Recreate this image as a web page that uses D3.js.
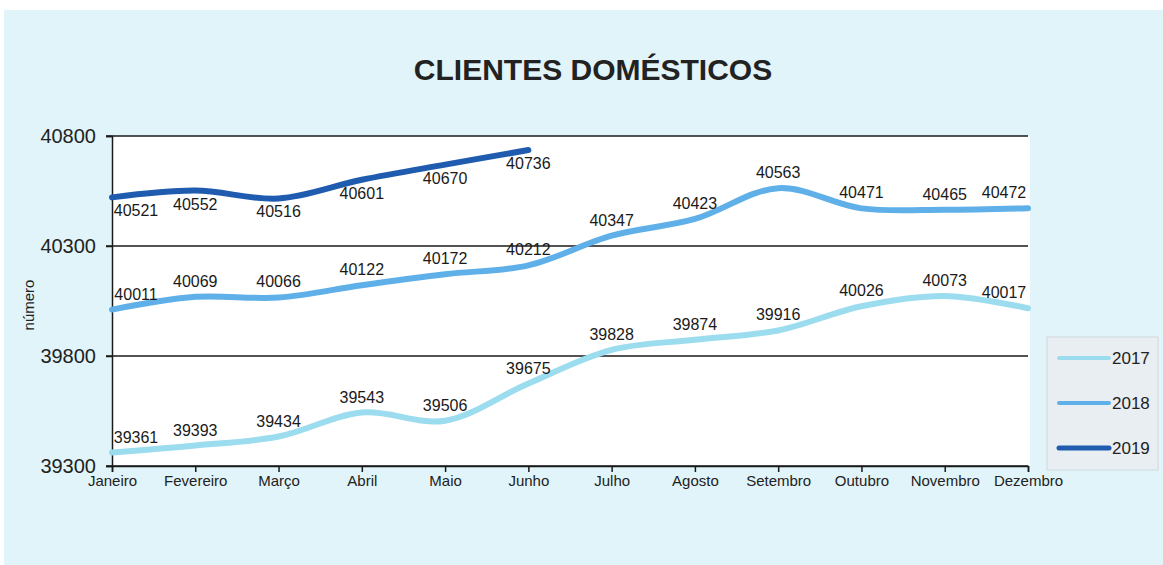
<!DOCTYPE html>
<meta charset="utf-8">
<style>
body { margin: 0; background: #fff; }
text { font-family: Arial, "Liberation Sans", sans-serif; }
</style>
<body>
<script src="https://cdn.jsdelivr.net/npm/d3@7"></script>
<script>

// data
var months = ["Janeiro", "Fevereiro", "Março", "Abril", "Maio", "Junho",
              "Julho", "Agosto", "Setembro", "Outubro", "Novembro", "Dezembro"];
var years = ["2017", "2018", "2019"];
var v2017 = [39361, 39393, 39434, 39543, 39506, 39675, 39828, 39874, 39916, 40026, 40073, 40017];
var v2018 = [40011, 40069, 40066, 40122, 40172, 40212, 40347, 40423, 40563, 40471, 40465, 40472];
var v2019 = [40521, 40552, 40516, 40601, 40670, 40736];
var yTicks = [39300, 39800, 40300, 40800];

var W = 1163, H = 565;
var plot = {left: 112, right: 1028, top: 136, bottom: 466};

var svg = d3.select("body").append("svg")
    .attr("width", W)
    .attr("height", H);

// paper background
svg.append("rect")
    .attr("x", 4).attr("y", 10)
    .attr("width", W - 4).attr("height", H - 10)
    .attr("fill", "#e1f4f9");

var x = d3.scalePoint().domain(months).range([plot.left, plot.right]);
var y = d3.scaleLinear().domain([39300, 40800]).range([plot.bottom, plot.top]);

// plot area
svg.append("rect")
    .attr("x", plot.left).attr("y", plot.top)
    .attr("width", plot.right - plot.left + 2)
    .attr("height", plot.bottom - plot.top)
    .attr("fill", "#fff");

// title
svg.append("text")
    .attr("x", 593).attr("y", 80)
    .attr("text-anchor", "middle")
    .style("font-size", "30px")
    .style("font-weight", "bold")
    .attr("fill", "#222")
    .text("CLIENTES DOMÉSTICOS");

// gridlines
svg.append("g").selectAll("line")
    .data(yTicks)
  .enter().append("line")
    .attr("x1", plot.left - 6).attr("x2", plot.right)
    .attr("y1", function(d) { return y(d); })
    .attr("y2", function(d) { return y(d); })
    .attr("stroke", "#1a1a1a")
    .attr("stroke-width", 1.5);

// y axis
var yAxis = svg.append("g")
    .attr("transform", "translate(" + plot.left + ",0)")
    .call(d3.axisLeft(y).tickValues(yTicks).tickSize(6).tickPadding(10).tickFormat(d3.format("d")));
yAxis.select(".domain").attr("stroke", "#1a1a1a").attr("stroke-width", 1.5);
yAxis.selectAll(".tick line").attr("stroke", "#1a1a1a").attr("stroke-width", 1.5);
yAxis.selectAll("text")
    .style("font-size", "20px")
    .attr("fill", "#222");

// x axis
var xAxis = svg.append("g")
    .attr("transform", "translate(0," + plot.bottom + ")")
    .call(d3.axisBottom(x).tickSize(6).tickPadding(3));
xAxis.select(".domain").attr("stroke", "#1a1a1a").attr("stroke-width", 1.5);
xAxis.selectAll(".tick line").attr("stroke", "#1a1a1a").attr("stroke-width", 1.5);
xAxis.selectAll("text")
    .style("font-size", "15px")
    .attr("fill", "#222");

// y axis title
svg.append("text")
    .attr("transform", "translate(34,305) rotate(-90)")
    .attr("text-anchor", "middle")
    .style("font-size", "15px")
    .attr("fill", "#222")
    .text("número");

// series
var series = [
  {name: "2017", values: v2017, color: "#9bdcef", width: 6, below: false},
  {name: "2018", values: v2018, color: "#5fb0e8", width: 6, below: false},
  {name: "2019", values: v2019, color: "#1f5cb0", width: 6, below: true}
];

var line = d3.line()
    .x(function(d, i) { return x(months[i]); })
    .y(function(d) { return y(d); })
    .curve(d3.curveCatmullRom.alpha(0.5));

series.forEach(function(s) {
  svg.append("path")
      .datum(s.values)
      .attr("fill", "none")
      .attr("stroke", s.color)
      .attr("stroke-width", s.width)
      .attr("stroke-linecap", "round")
      .attr("d", line);
});

// data labels
series.forEach(function(s) {
  svg.append("g").selectAll("text")
      .data(s.values)
    .enter().append("text")
      .attr("x", function(d, i) {
        var cx = x(months[i]);
        return Math.max(plot.left + 24, Math.min(plot.right - 24, cx));
      })
      .attr("y", function(d) { return y(d) + (s.below ? 19 : -10); })
      .attr("text-anchor", "middle")
      .style("font-size", "16px")
      .attr("fill", "#1a1a1a")
      .text(function(d) { return d; });
});

// legend
var legend = svg.append("g").attr("transform", "translate(1047,337)");
legend.append("rect")
    .attr("width", 111).attr("height", 133)
    .attr("fill", "#e9eef3")
    .attr("stroke", "#cfd8df");
legend.selectAll("g.item")
    .data(series)
  .enter().append("g")
    .attr("class", "item")
    .attr("transform", function(d, i) { return "translate(0," + (21 + i * 45) + ")"; })
    .each(function(d) {
      var g = d3.select(this);
      g.append("line")
          .attr("x1", 12).attr("x2", 62)
          .attr("stroke", d.color)
          .attr("stroke-width", d.name === "2019" ? 5 : 4)
          .attr("stroke-linecap", "round");
      g.append("text")
          .attr("x", 65).attr("y", 6)
          .style("font-size", "17px")
          .attr("fill", "#222")
          .text(d.name);
    });

</script>
</body>
